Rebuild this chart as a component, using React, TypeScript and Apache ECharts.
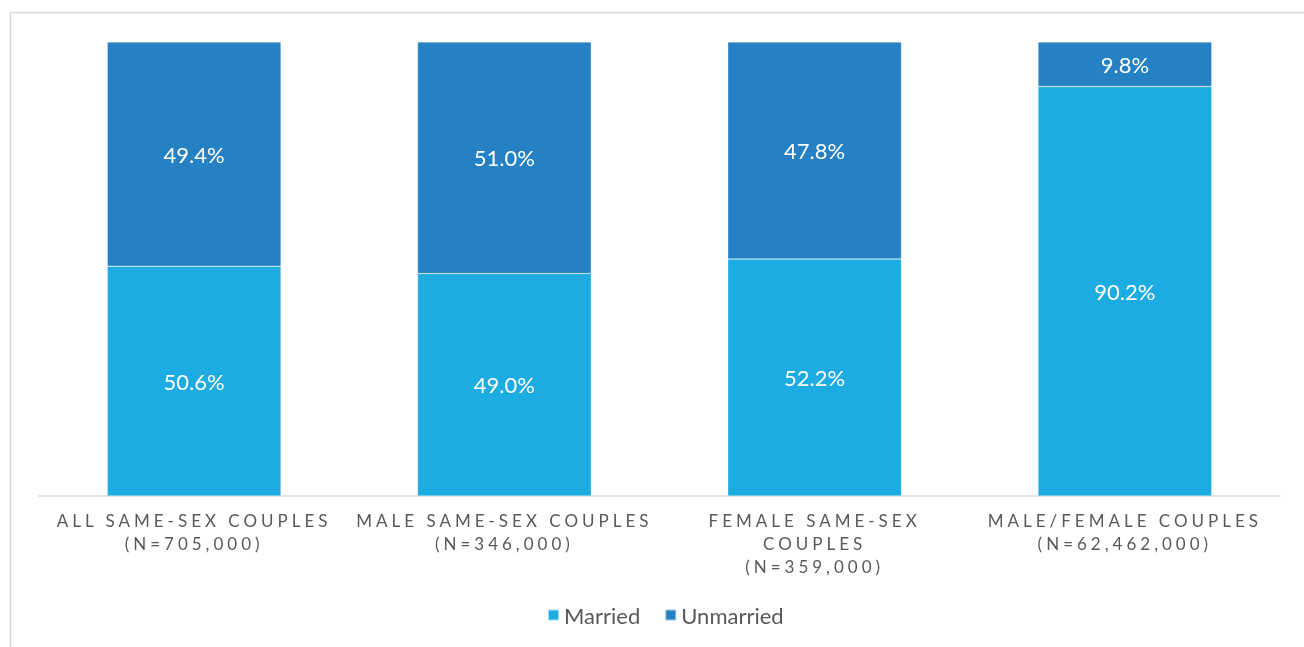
import React, { useEffect, useRef } from "react";
import * as echarts from "echarts";

const categoryNames = ["All Same-Sex Couples", "Male Same-Sex Couples", "Female Same-Sex Couples", "Male/Female Couples"];
const categoryNs = ["705,000", "346,000", "359,000", "62,462,000"];
const categoryBreaks = [[3], [3], [2, 1], [2]]; // words per line
const married = [50.6, 49.0, 52.2, 90.2];
const unmarried = [49.4, 51.0, 47.8, 9.8];
const seriesNames = ["Married", "Unmarried"];

const FONT = "Lato, 'Open Sans', sans-serif";

function buildLabel(i: number): string {
  const words = categoryNames[i].toUpperCase().split(" ");
  const lines: string[] = [];
  let k = 0;
  for (const n of categoryBreaks[i]) {
    lines.push(words.slice(k, k + n).join(" "));
    k += n;
  }
  lines.push("(N=" + categoryNs[i] + ")");
  return lines.join("\n");
}

export default function App() {
  const ref = useRef<HTMLDivElement>(null);
  useEffect(() => {
    document.body.style.margin = "0";
    const chart = echarts.init(ref.current!, undefined, { renderer: "svg" });
    const labelStyle = {
      show: true,
      position: "inside" as const,
      color: "#ffffff",
      fontSize: 22,
      fontFamily: FONT,
      formatter: (p: any) => p.value.toFixed(1) + "%",
    };
    chart.setOption({
      animation: false,
      textStyle: { fontFamily: FONT },
      graphic: [
        {
          type: "rect",
          shape: { x: 10.5, y: 12.5, width: 1400, height: 800 },
          style: { fill: "none", stroke: "#d9d9d9", lineWidth: 1.5 },
          silent: true,
        },
      ],
      grid: { left: 39, right: 24, top: 42, bottom: 151, containLabel: false },
      legend: {
        bottom: 16,
        left: 542,
        itemWidth: 11,
        itemHeight: 11,
        itemGap: 24,
        icon: "rect",
        textStyle: { color: "#595959", fontSize: 22, fontFamily: FONT },
        data: seriesNames,
      },
      xAxis: {
        type: "category",
        data: categoryNames.map((_, i) => i),
        axisLine: { lineStyle: { color: "#d9d9d9", width: 1.5 } },
        axisTick: { show: false },
        axisLabel: {
          color: "#595959",
          fontSize: 17,
          lineHeight: 23,
          margin: 13,
          fontFamily: FONT,
          interval: 0,
          formatter: (v: any) => buildLabel(Number(v)),
        },
      },
      yAxis: { type: "value", min: 0, max: 100, show: false },
      series: [
        {
          name: seriesNames[0],
          type: "bar",
          stack: "total",
          barWidth: "56%",
          data: married,
          itemStyle: { color: "#1dace2", borderColor: "rgba(255,255,255,0.6)", borderWidth: 0.5 },
          label: labelStyle,
        },
        {
          name: seriesNames[1],
          type: "bar",
          stack: "total",
          barWidth: "56%",
          data: unmarried,
          itemStyle: { color: "#2581c4", borderColor: "rgba(255,255,255,0.6)", borderWidth: 0.5 },
          label: labelStyle,
        },
      ],
    });
    // widen axis label letter spacing as in the original
    const svg = ref.current!.querySelector("svg");
    if (svg) {
      svg.querySelectorAll("text").forEach((t) => {
        const s = t.textContent || "";
        if (/^[A-Z(][A-Z/\-\s(=0-9,)]*$/.test(s) && !s.includes("%") && s.length > 5) {
          (t as SVGTextElement).style.letterSpacing = "4px";
        }
      });
    }
    return () => chart.dispose();
  }, []);
  return <div ref={ref} style={{ position: "fixed", left: 0, top: 0, width: 1304, height: 647 }} />;
}
